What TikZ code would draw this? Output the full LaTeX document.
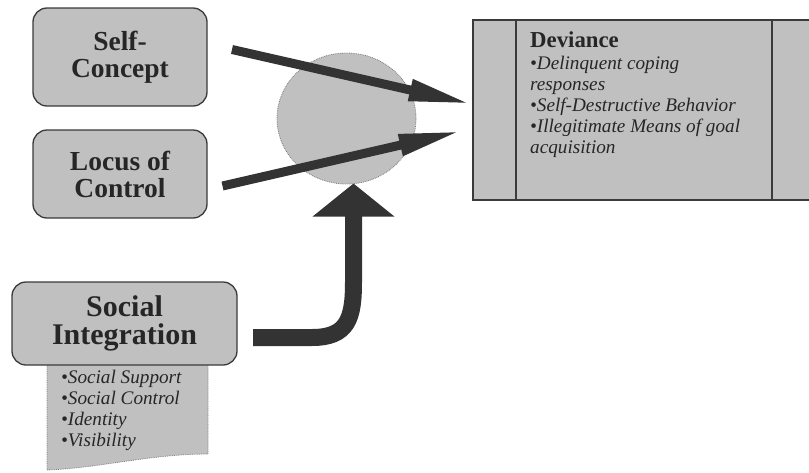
\documentclass[tikz,border=0pt]{standalone}
\usepackage{fontspec}
\setmainfont{Liberation Serif}
\usetikzlibrary{shapes.geometric,arrows.meta}
\definecolor{boxgray}{HTML}{C0C0C0}
\definecolor{ink}{HTML}{262626}
\definecolor{arrowdark}{HTML}{333333}
\definecolor{edgegray}{HTML}{3A3A3A}
\definecolor{dotgray}{HTML}{7A7A7A}

\begin{document}
\begin{tikzpicture}[x=1pt,y=-1pt,
  factor/.style={draw=edgegray, line width=1.3pt, fill=boxgray, rounded corners=14pt,
    inner sep=0pt, align=center, text=ink,
    font=\bfseries\fontsize{27.5}{27}\selectfont},
  listtext/.style={inner sep=0pt, align=left, text=ink,
    font=\itshape\fontsize{19.2}{21}\selectfont},
  thinarrow/.style={draw=arrowdark, line width=9pt,
    -{Triangle[length=63pt, width=20pt]}},
  bigarrow/.style={draw=arrowdark, line width=17pt,
    -{Triangle[length=33pt, width=80pt]}}
]
\useasboundingbox (0,0) rectangle (809,472);

% outcome box with side panels
\node[draw=edgegray, line width=1.3pt, fill=boxgray, minimum width=344pt,
  minimum height=180pt, inner sep=0pt] (dev) at (645,110) {};
\draw[edgegray, line width=1.3pt] (516,20) coordinate (p1) -- (516,200);
\draw[edgegray, line width=1.3pt] (772,20) coordinate (p2) -- (772,200);
\node[anchor=base west, inner sep=0pt, text=ink,
  font=\bfseries\fontsize{22.8}{24}\selectfont] (devtitle) at (530,47) {Deviance};
\node[listtext, anchor=north west] (devlist) at (530,55.5)
  {•Delinquent coping\\ responses\\ •Self-Destructive Behavior\\
   •Illegitimate Means of goal\\ acquisition};

% mediating circle
\node[ellipse, draw=dotgray, densely dotted, line width=0.8pt, fill=boxgray,
  minimum width=139pt, minimum height=131pt, inner sep=0pt] (med) at (346.5,118.5) {};

% predictor boxes
\node[factor, minimum width=174pt, minimum height=98pt] (sc) at (120,57) {Self-\\Concept};
\node[factor, minimum width=174pt, minimum height=88pt] (loc) at (120,174) {Locus of\\Control};

% document sheet under the social integration box
\path[draw=dotgray, densely dotted, line width=0.8pt, fill=boxgray]
  (47,355) -- (47,470) .. controls (100,468) and (150,454) .. (208,454)
  -- (208,355) -- cycle;
\node[factor, minimum width=225pt, minimum height=83pt] (si) at (124.5,323.5) {};
\node[inner sep=0pt, align=center, text=ink,
  font=\bfseries\fontsize{30}{28}\selectfont] (silabel) at (si.center) {Social\\Integration};
\node[listtext, anchor=north west] (silist) at (61,370)
  {•Social Support\\ •Social Control\\ •Identity\\ •Visibility};

% connectors
\coordinate (a1s) at (232,49.5);
\coordinate (a1e) at (471.7,104);
\coordinate (a2s) at (222.5,186);
\coordinate (a2e) at (461.7,131);
\draw[thinarrow] (a1s) -- (a1e);
\draw[thinarrow] (a2s) -- (a2e);

\coordinate (b1) at (253,337.5);
\coordinate (b2) at (353.5,183.5);
\draw[bigarrow] (b1) -- (312,337.5) .. controls (348,337.5) and (353.5,318) .. (353.5,282) -- (b2);
\end{tikzpicture}
\end{document}
